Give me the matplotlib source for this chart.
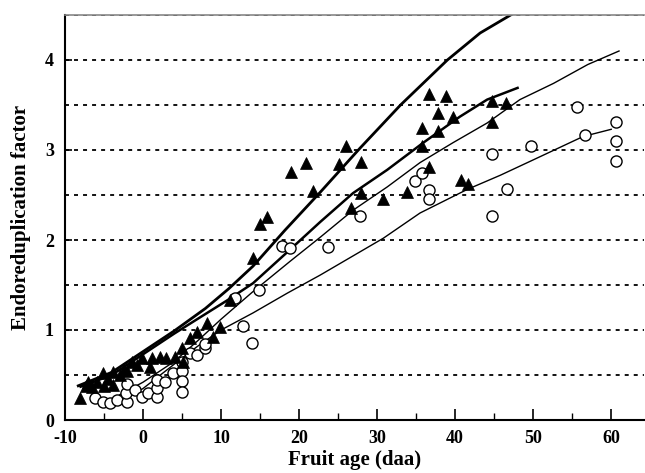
#!/usr/bin/env python3
"""Endoreduplication factor vs fruit age — scatter with fitted curves."""

import matplotlib

matplotlib.use("Agg")
import matplotlib.pyplot as plt
import numpy as np
from matplotlib.ticker import MultipleLocator

plt.rcParams["font.family"] = ["Liberation Serif", "DejaVu Serif"]
plt.rcParams["axes.unicode_minus"] = False

# --------------------------------------------------------------------------- #
#  Data
# --------------------------------------------------------------------------- #

TRI_X = [-8.1, -7.3, -7.0, -6.5, -5.9, -5.1, -5.0, -4.5, -3.8, -3.8, -3.0, -2.5,
         -2.0, -1.4, -0.8, -0.1, 0.9, 1.1, 2.2, 3.0, 4.1, 5.0, 5.1, 6.0, 6.9,
         8.2, 9.0, 9.9, 11.2, 14.1, 15.0, 15.9, 19.0, 20.9, 21.8, 25.1, 26.0,
         26.7, 27.9, 27.9, 30.8, 33.8, 35.7, 35.8, 36.7, 36.7, 37.8, 37.8, 38.8,
         39.7, 40.8, 41.7, 44.7, 44.7, 46.5]
TRI_Y = [0.24, 0.38, 0.42, 0.37, 0.42, 0.52, 0.38, 0.46, 0.39, 0.53, 0.50, 0.57,
         0.55, 0.65, 0.61, 0.69, 0.59, 0.69, 0.70, 0.69, 0.70, 0.80, 0.65, 0.91, 0.98,
         1.08, 0.92, 1.03, 1.33, 1.80, 2.18, 2.26, 2.75, 2.85, 2.54, 2.84, 3.04,
         2.36, 2.87, 2.52, 2.46, 2.53, 3.04, 3.24, 3.62, 2.81, 3.41, 3.21, 3.60,
         3.37, 2.67, 2.62, 3.54, 3.31, 3.52]

CIR_X = [-6.2, -5.1, -4.2, -3.3, -2.1, -2.2, -2.1, -1.0, -0.1, 0.7, 1.8, 1.8,
         1.8, 2.8, 3.9, 5.0, 5.0, 5.0, 5.0, 6.0, 6.9, 7.9, 7.9, 11.8, 12.8, 14.0,
         14.8, 17.8, 18.8, 23.7, 27.8, 34.9, 35.8, 36.7, 36.7, 44.7, 44.7, 46.7,
         49.7, 55.6, 56.6, 60.6, 60.6, 60.6]
CIR_Y = [0.24, 0.20, 0.19, 0.22, 0.20, 0.30, 0.40, 0.33, 0.26, 0.30, 0.26, 0.36,
         0.45, 0.42, 0.52, 0.65, 0.54, 0.43, 0.31, 0.74, 0.72, 0.80, 0.85, 1.36, 1.04, 0.86,
         1.44, 1.93, 1.91, 1.92, 2.27, 2.65, 2.74, 2.55, 2.45, 2.96, 2.27, 2.57,
         3.05, 3.48, 3.17, 3.31, 3.10, 2.88]

# fitted curves: two thick, two thin
CURVE_A_X = [-8.3, -4, 0, 4, 8, 11, 14.1, 18.2, 22.7, 27.8, 33, 39, 43.2, 47.5]
CURVE_A_Y = [0.38, 0.53, 0.76, 0.99, 1.24, 1.46, 1.71, 2.11, 2.53, 3.02, 3.50, 4.00, 4.30, 4.52]

CURVE_B_X = [-8, -4, 0, 4, 7.3, 10.8, 14.1, 18.8, 22.7, 26.9, 31.3, 35.9, 40.6, 44.1, 48]
CURVE_B_Y = [0.37, 0.50, 0.73, 0.96, 1.14, 1.33, 1.52, 1.89, 2.20, 2.52, 2.78, 3.08, 3.37, 3.56, 3.69]

CURVE_C_X = [-3, 0, 4, 7, 10, 14, 18.8, 22.7, 26.9, 31.3, 35.5, 39.7, 44.1, 48.3, 52.6, 57, 61]
CURVE_C_Y = [0.28, 0.42, 0.65, 0.88, 1.12, 1.42, 1.76, 2.03, 2.33, 2.59, 2.86, 3.08, 3.30, 3.56, 3.74, 3.95, 4.10]

CURVE_D_X = [-2, 0, 4, 7, 10, 14.1, 18.5, 22.7, 30.8, 35.5, 41.5, 45.8, 50, 56.4, 60]
CURVE_D_Y = [0.25, 0.35, 0.62, 0.82, 1.00, 1.19, 1.41, 1.61, 2.02, 2.30, 2.56, 2.72, 2.89, 3.15, 3.23]

X_MAJOR = [-10, 0, 10, 20, 30, 40, 50, 60]
Y_MAJOR = [0, 1, 2, 3, 4]
GRID_Y = [0.5, 1.0, 1.5, 2.0, 2.5, 3.0, 3.5, 4.0, 4.5]


def plot_chart(output_path: str) -> None:
    fig = plt.figure(figsize=(6.45, 4.73), dpi=100)
    ax = fig.add_axes([65 / 645, 53 / 473, 579 / 645, 405 / 473])

    ax.set_xlim(-10, 64.2)
    ax.set_ylim(0, 4.5)

    for g in GRID_Y:
        ax.axhline(g, color="black", lw=1.3, ls=(0, (2.2, 2.8)), zorder=1)

    ax.plot(CURVE_A_X, CURVE_A_Y, color="black", lw=2.0, zorder=2)
    ax.plot(CURVE_B_X, CURVE_B_Y, color="black", lw=1.8, zorder=2)
    ax.plot(CURVE_C_X, CURVE_C_Y, color="black", lw=1.0, zorder=2)
    ax.plot(CURVE_D_X, CURVE_D_Y, color="black", lw=1.0, zorder=2)

    ax.plot(CIR_X, CIR_Y, "o", ms=8, mfc="white", mec="black", mew=1.0, zorder=3)
    ax.plot(TRI_X, TRI_Y, "^", ms=9, mfc="black", mec="black", mew=0.5, zorder=4)

    ax.set_xticks(X_MAJOR)
    ax.xaxis.set_minor_locator(MultipleLocator(5))
    ax.set_yticks(Y_MAJOR)
    ax.tick_params(axis="x", which="major", direction="in", length=8, width=1.2,
                   labelsize=13, pad=7)
    ax.tick_params(axis="x", which="minor", direction="in", length=5, width=1.0)
    ax.tick_params(axis="y", which="major", direction="in", length=5, width=1.2,
                   labelsize=13, pad=8)
    for lbl in ax.get_xticklabels() + ax.get_yticklabels():
        lbl.set_fontweight("bold")

    ax.spines["right"].set_visible(False)
    ax.spines["top"].set_color("#888888")
    ax.spines["top"].set_linewidth(1.2)
    ax.spines["left"].set_linewidth(1.5)
    ax.spines["bottom"].set_linewidth(1.5)

    ax.set_xlabel("Fruit age (daa)", fontsize=15, fontweight="bold", labelpad=2)
    ax.set_ylabel("Endoreduplication factor", fontsize=15, fontweight="bold", labelpad=10)

    fig.savefig(output_path, dpi=100)
    plt.close(fig)


def main() -> None:
    plot_chart("out.png")


if __name__ == "__main__":
    main()
